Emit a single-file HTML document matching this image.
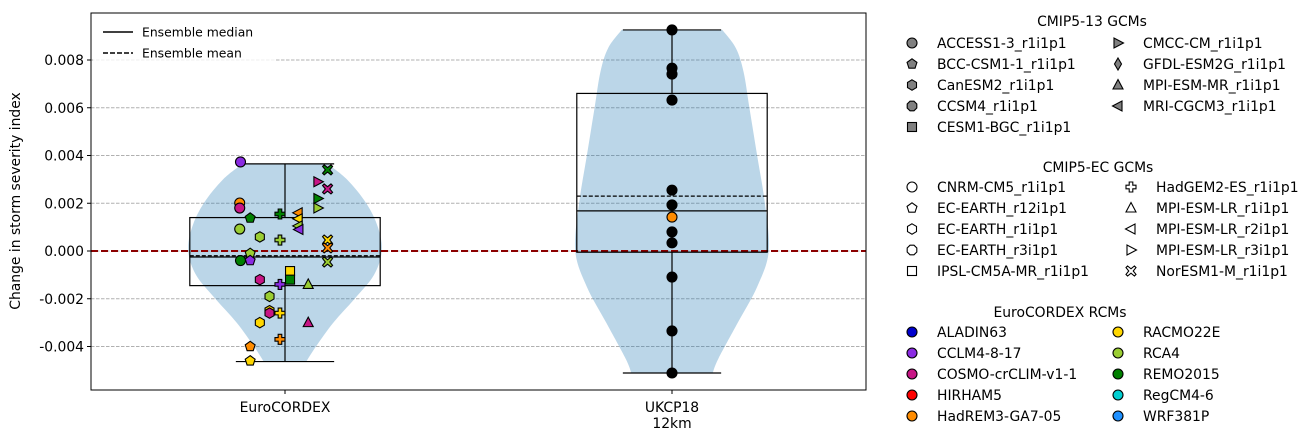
<!DOCTYPE html>
<html><head><meta charset="utf-8"><style>
body{margin:0;background:#fff;}
svg{display:block;font-family:"DejaVu Sans","Liberation Sans",sans-serif;}
</style></head><body>
<svg id="c" width="1314" height="440" viewBox="0 0 1314 440" xmlns="http://www.w3.org/2000/svg">
<g id="grid"></g>
<g id="viol"></g>
<g id="box"></g>
<g id="pts"></g>
<rect x="91" y="13" width="775" height="377" fill="none" stroke="#000" stroke-width="1"/>
<g id="axes"></g>
<g>
<rect x="93" y="15" width="182" height="48" fill="#fff" opacity="0.8"/>
<line x1="103" y1="32" x2="133" y2="32" stroke="#000" stroke-width="1.5"/>
<text x="142" y="36.5" font-size="12.4">Ensemble median</text>
<line x1="103" y1="53" x2="133" y2="53" stroke="#000" stroke-width="1.5" stroke-dasharray="5,2"/>
<text x="142" y="57.5" font-size="12.4">Ensemble mean</text>
</g>
<text transform="translate(20,201) rotate(-90)" text-anchor="middle" font-size="13.9">Change in storm severity index</text>
<g id="leg"></g>
</svg>
<script>
const categories=["EuroCORDEX","UKCP18\n12km"];
const yTicks=[-0.004,-0.002,0,0.002,0.004,0.006,0.008];
const boxStats=[{lo:-0.00463,q1:-0.00145,med:-0.00025,mean:-0.0002,q3:0.0014,hi:0.00365},{lo:-0.00511,q1:-0.00005,med:0.00168,mean:0.0023,q3:0.0066,hi:0.00926}];
const violinVals0=[0.00365,0.003,0.002,0.001,0,-0.001,-0.002,-0.003,-0.004,-0.00463];
const violinW0=[0.11,0.16,0.21,0.24,0.25,0.23,0.18,0.125,0.08,0.055];
const violinVals1=[0.00926,0.0085,0.0075,0.006,0.004,0.002,0,-0.0015,-0.003,-0.0045,-0.00511];
const violinW1=[0.13,0.165,0.185,0.2,0.22,0.24,0.25,0.22,0.17,0.12,0.105];
const ecVals=[0.00373,0.00201,0.0018,0.00138,0.00092,0.00059,0.00155,0.00046,0.0016,0.00135,0.00105,0.0009,0.0034,0.0029,0.0026,0.0022,0.0018,0.00046,0.00013,-0.00046,-0.0001,-0.0004,-0.0004,-0.00084,-0.0012,-0.0012,-0.0014,-0.0014,-0.0019,-0.0025,-0.0026,-0.0026,-0.003,-0.003,-0.0037,-0.004,-0.0046];
const ecJitter=[-0.115,-0.117,-0.117,-0.09,-0.117,-0.065,-0.013,-0.013,0.034,0.034,0.034,0.036,0.11,0.085,0.11,0.085,0.085,0.11,0.11,0.11,-0.09,-0.115,-0.09,0.013,0.013,-0.065,-0.013,0.06,-0.04,-0.04,-0.04,-0.013,0.06,-0.065,-0.013,-0.09,-0.09];
const ecMarkers=["o","o","o","p","o","h","P","P","<","<","<","<","X",">","X",">",">","X","X","X","p","o","p","s","s","h","P","^","h","h","h","P","^","h","P","p","p"];
const ecColors=["#8a2be2","#ff8c00","#c71585","#008000","#9acd32","#9acd32","#008000","#9acd32","#ff8c00","#ffd700","#9acd32","#8a2be2","#008000","#c71585","#c71585","#008000","#9acd32","#ffd700","#ff8c00","#9acd32","#9acd32","#008000","#8a2be2","#ffd700","#008000","#c71585","#8a2be2","#9acd32","#9acd32","#ffd700","#c71585","#ffd700","#c71585","#ffd700","#ff8c00","#ff8c00","#ffd700"];
const ukVals=[0.00926,0.00766,0.00741,0.00632,0.00255,0.00193,0.00142,0.0008,0.00034,-0.00109,-0.00335,-0.00511];
const ukColors=["#000","#000","#000","#000","#000","#000","#ff8c00","#000","#000","#000","#000","#000"];

const NS="http://www.w3.org/2000/svg";
const FS=13.9;
const X0=285,DX=387;
const xS=i=>X0+i*DX;
const yS=v=>251-v/0.002*47.75;
function mk(tag,attrs,parent){const e=document.createElementNS(NS,tag);for(const k in attrs)e.setAttribute(k,attrs[k]);parent.appendChild(e);return e;}
const G=id=>document.getElementById(id);

yTicks.forEach(t=>{
  const y=yS(t);
  const l=mk('line',{x1:91,x2:866,y1:y,y2:y,stroke:'#b0b0b0','stroke-dasharray':'3.5,1.5','stroke-width':0.9},G('grid'));
  
  
  const tk=mk('line',{x1:87,x2:91,y1:y,y2:y,stroke:'#000'},G('axes'));
  
  
  const tx=mk('text',{x:84,y:y+5,'text-anchor':'end','font-size':FS},G('axes'));
  tx.textContent=t.toFixed(3);
  
  
});
categories.forEach((c,i)=>{
  const x=xS(i);
  mk('line',{x1:x,x2:x,y1:390,y2:394,stroke:'#000'},G('axes'));
  c.split('\n').forEach((s,j)=>{
    const t=mk('text',{x:x,y:412+j*16,'text-anchor':'middle','font-size':FS},G('axes'));
    t.textContent=s;
    
    
  });
});

function violin(i,vals,ws){
  const cx=xS(i);
  const R=vals.map((v,k)=>[cx+ws[k]*DX,yS(v)]);
  const L=vals.map((v,k)=>[cx-ws[k]*DX,yS(v)]).reverse();
  function smooth(P){let d='';for(let k=0;k<P.length-1;k++){const p0=P[Math.max(k-1,0)],p1=P[k],p2=P[k+1],p3=P[Math.min(k+2,P.length-1)];
    const c1=[p1[0]+(p2[0]-p0[0])/6,p1[1]+(p2[1]-p0[1])/6],c2=[p2[0]-(p3[0]-p1[0])/6,p2[1]-(p3[1]-p1[1])/6];
    d+=` C${c1[0]},${c1[1]} ${c2[0]},${c2[1]} ${p2[0]},${p2[1]}`;}return d;}
  const d=`M${R[0][0]},${R[0][1]}`+smooth(R)+` L${L[0][0]},${L[0][1]}`+smooth(L)+'Z';
  const p=mk('path',{d:d,fill:'#1f77b4','fill-opacity':0.3},G('viol'));
  
  
}
violin(0,violinVals0,violinW0);
violin(1,violinVals1,violinW1);

mk('line',{x1:91,x2:866,y1:yS(0),y2:yS(0),stroke:'#8b0000','stroke-width':2,'stroke-dasharray':'7,3'},G('box'));

boxStats.forEach((b,i)=>{
  const cx=xS(i),hw=0.246*DX,cw=0.127*DX;
  const g=mk('g',{},G('box'));
  
  
  mk('rect',{x:cx-hw,y:yS(b.q3),width:2*hw,height:yS(b.q1)-yS(b.q3),fill:'none',stroke:'#000','stroke-width':1.2},g);
  mk('line',{x1:cx,x2:cx,y1:yS(b.hi),y2:yS(b.q3),stroke:'#000','stroke-width':1.2},g);
  mk('line',{x1:cx,x2:cx,y1:yS(b.q1),y2:yS(b.lo),stroke:'#000','stroke-width':1.2},g);
  mk('line',{x1:cx-cw,x2:cx+cw,y1:yS(b.hi),y2:yS(b.hi),stroke:'#000','stroke-width':1.2},g);
  mk('line',{x1:cx-cw,x2:cx+cw,y1:yS(b.lo),y2:yS(b.lo),stroke:'#000','stroke-width':1.2},g);
  mk('line',{x1:cx-hw,x2:cx+hw,y1:yS(b.med),y2:yS(b.med),stroke:'#000','stroke-width':1.2},g);
  mk('line',{x1:cx-hw,x2:cx+hw,y1:yS(b.mean),y2:yS(b.mean),stroke:'#000','stroke-width':1.2,'stroke-dasharray':'4,2'},g);
});

function poly(n,r,rot){const p=[];for(let k=0;k<n;k++){const a=rot+k*2*Math.PI/n;p.push([Math.cos(a)*r,Math.sin(a)*r]);}return p;}
function marker(parent,type,x,y,fill,s){
  s=s||1;let el;const sw=1.1;
  const P=pts=>mk('polygon',{points:pts.map(p=>(x+p[0]*s)+','+(y+p[1]*s)).join(' '),fill:fill,stroke:'#000','stroke-width':sw},parent);
  switch(type){
    case 'o':el=mk('circle',{cx:x,cy:y,r:5*s,fill:fill,stroke:'#000','stroke-width':sw},parent);break;
    case 's':el=mk('rect',{x:x-4.5*s,y:y-4.5*s,width:9*s,height:9*s,fill:fill,stroke:'#000','stroke-width':sw},parent);break;
    case 'p':el=P(poly(5,5.2,-Math.PI/2));break;
    case 'h':el=P(poly(6,5.2,-Math.PI/2));break;
    case '8':el=P(poly(8,5.2,Math.PI/8));break;
    case '^':el=P([[0,-5.5],[5,4],[-5,4]]);break;
    case '<':el=P([[-5.5,0],[4,-5],[4,5]]);break;
    case '>':el=P([[5.5,0],[-4,-5],[-4,5]]);break;
    case 'd':el=P([[0,-6],[3.5,0],[0,6],[-3.5,0]]);break;
    case 'P':el=P([[-1.8,-5],[1.8,-5],[1.8,-1.8],[5,-1.8],[5,1.8],[1.8,1.8],[1.8,5],[-1.8,5],[-1.8,1.8],[-5,1.8],[-5,-1.8],[-1.8,-1.8]]);break;
    case 'X':{const a=1.6,b=5;el=P([[-b+a,-b],[0,-a*1.4],[b-a,-b],[b,-b+a],[a*1.4,0],[b,b-a],[b-a,b],[0,a*1.4],[-b+a,b],[-b,b-a],[-a*1.4,0],[-b,-b+a]]);break;}
  }
  return el;
}
ecVals.forEach((v,k)=>{
  const el=marker(G('pts'),ecMarkers[k],xS(0)+ecJitter[k]*DX,yS(v),ecColors[k]);
  
  
});
ukVals.forEach((v,k)=>{
  const el=marker(G('pts'),'o',xS(1),yS(v),ukColors[k]);
  
  
});

const sections=[
 {title:'CMIP5-13 GCMs',tx:1092,ty:26,y0:43,c2m:1118,c2l:1143,fill:'#808080',
  items:[['o','ACCESS1-3_r1i1p1'],['p','BCC-CSM1-1_r1i1p1'],['h','CanESM2_r1i1p1'],['8','CCSM4_r1i1p1'],['s','CESM1-BGC_r1i1p1'],['>','CMCC-CM_r1i1p1'],['d','GFDL-ESM2G_r1i1p1'],['^','MPI-ESM-MR_r1i1p1'],['<','MRI-CGCM3_r1i1p1']],split:5},
 {title:'CMIP5-EC GCMs',tx:1098,ty:172,y0:187,c2m:1131,c2l:1156,fill:'#fff',
  items:[['o','CNRM-CM5_r1i1p1'],['p','EC-EARTH_r12i1p1'],['h','EC-EARTH_r1i1p1'],['8','EC-EARTH_r3i1p1'],['s','IPSL-CM5A-MR_r1i1p1'],['P','HadGEM2-ES_r1i1p1'],['^','MPI-ESM-LR_r1i1p1'],['<','MPI-ESM-LR_r2i1p1'],['>','MPI-ESM-LR_r3i1p1'],['X','NorESM1-M_r1i1p1']],split:5},
 {title:'EuroCORDEX RCMs',tx:1060,ty:317,y0:332,c2m:1118,c2l:1143,
  items:[['#0000cd','ALADIN63'],['#8a2be2','CCLM4-8-17'],['#c71585','COSMO-crCLIM-v1-1'],['#ff0000','HIRHAM5'],['#ff8c00','HadREM3-GA7-05'],['#ffd700','RACMO22E'],['#9acd32','RCA4'],['#008000','REMO2015'],['#00ced1','RegCM4-6'],['#1e90ff','WRF381P']],split:5}
];
sections.forEach(sec=>{
  const t=mk('text',{x:sec.tx,y:sec.ty,'text-anchor':'middle','font-size':FS},G('leg'));
  t.textContent=sec.title;
  
  
  sec.items.forEach((it,k)=>{
    const col=k<sec.split?0:1,row=col?k-sec.split:k;
    const y=sec.y0+row*21;
    const mx=col?sec.c2m:912,lx=col?sec.c2l:937;
    let m;
    if(sec.fill) m=marker(G('leg'),it[0],mx,y,sec.fill);
    else m=marker(G('leg'),'o',mx,y,it[0]);
    
    
    const tx=mk('text',{x:lx,y:y+5,'font-size':FS},G('leg'));
    tx.textContent=it[1];
    
    
  });
});
</script>
</body></html>
